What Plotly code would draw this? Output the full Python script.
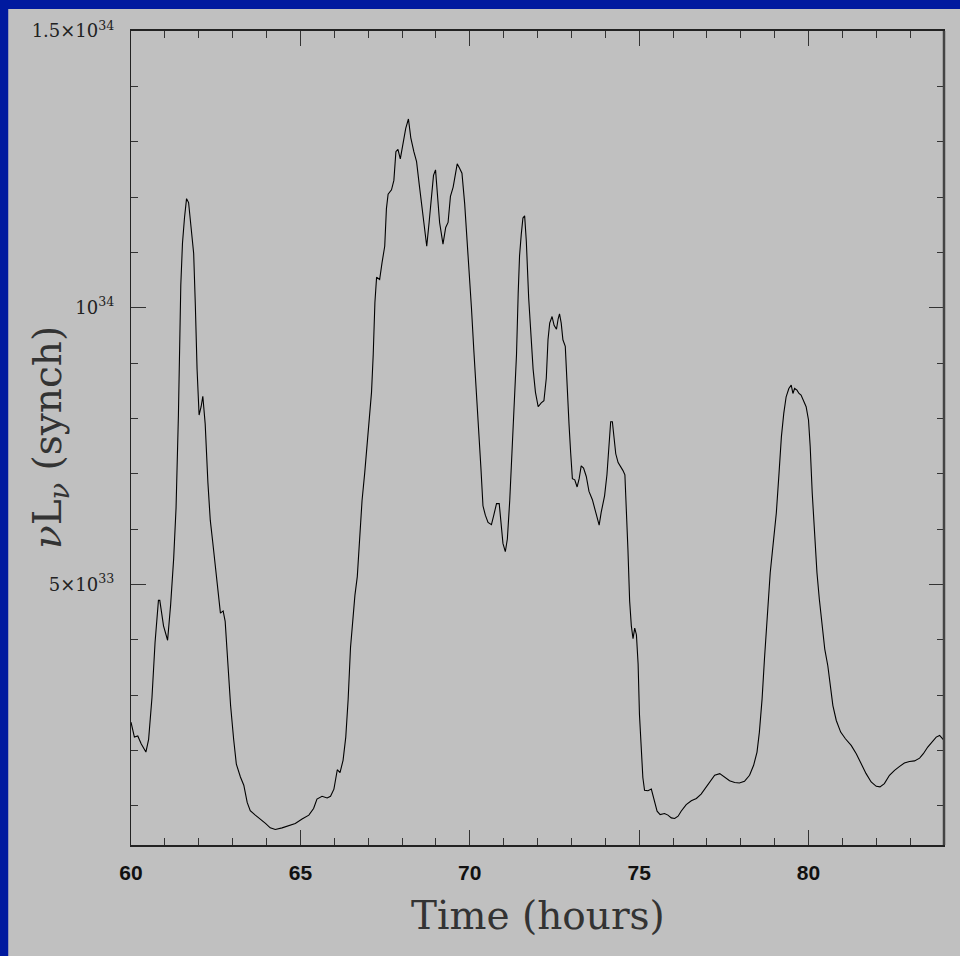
import plotly.graph_objects as go

# Time (hours)
time_h = [
    60.00, 60.10, 60.20, 60.30, 60.44, 60.52, 60.62, 60.71, 60.81, 60.85, 60.96, 61.08, 61.17, 61.26,
    61.33, 61.40, 61.47, 61.52, 61.58, 61.64, 61.70, 61.77, 61.85, 61.90, 61.95, 62.01, 62.07, 62.12,
    62.19, 62.27, 62.34, 62.41, 62.49, 62.57, 62.64, 62.72, 62.78, 62.86, 62.94, 63.03, 63.11, 63.23,
    63.33, 63.43, 63.52, 63.67, 63.82, 63.97, 64.11, 64.26, 64.46, 64.66, 64.85, 65.05, 65.25, 65.39,
    65.49, 65.64, 65.79, 65.89,
    65.99, 66.09, 66.17, 66.26, 66.34, 66.41, 66.48, 66.54, 66.61, 66.68, 66.75, 66.82, 66.90, 66.97,
    67.03, 67.10, 67.15, 67.20, 67.25, 67.34, 67.41, 67.49, 67.54, 67.59, 67.69, 67.76, 67.82, 67.88,
    67.95, 68.03, 68.11, 68.19, 68.26, 68.35, 68.43, 68.51, 68.58, 68.66, 68.73, 68.80, 68.87, 68.93,
    68.99, 69.04, 69.11, 69.21, 69.29, 69.36, 69.43, 69.51, 69.56, 69.63, 69.70, 69.77, 69.85, 69.92,
    69.98, 70.05, 70.12, 70.20, 70.27, 70.33, 70.39, 70.46, 70.54, 70.64, 70.71, 70.79, 70.87, 70.93,
    70.98, 71.05, 71.11, 71.18, 71.25, 71.31, 71.38, 71.43, 71.47, 71.52, 71.57, 71.62, 71.67, 71.74,
    71.80, 71.87, 71.94, 72.02,
    72.11, 72.19, 72.26, 72.31, 72.36, 72.43, 72.49, 72.56, 72.61, 72.65, 72.70, 72.75, 72.82, 72.87,
    72.93, 72.98, 73.03, 73.10, 73.17, 73.23, 73.29, 73.36, 73.44, 73.52, 73.62, 73.72, 73.82, 73.88,
    73.98, 74.05, 74.11, 74.16, 74.21, 74.26, 74.31, 74.38, 74.45, 74.52, 74.58, 74.62, 74.67, 74.72,
    74.77, 74.82, 74.87, 74.92, 74.97, 75.01, 75.06, 75.11, 75.16, 75.26, 75.36, 75.44, 75.53, 75.62,
    75.75, 75.85, 75.95, 76.05, 76.15, 76.24, 76.39, 76.54, 76.69, 76.83, 76.96, 77.08, 77.23, 77.38,
    77.52, 77.67, 77.82, 77.96,
    78.11, 78.26, 78.38, 78.48, 78.55, 78.63, 78.70, 78.78, 78.87, 78.95, 79.05, 79.13, 79.20, 79.27,
    79.34, 79.42, 79.49, 79.54, 79.59, 79.66, 79.72, 79.78, 79.85, 79.93, 80.00, 80.05, 80.11, 80.18,
    80.25, 80.32, 80.40, 80.48, 80.57, 80.64, 80.72, 80.82, 80.95, 81.09, 81.26, 81.41, 81.55, 81.70,
    81.85, 82.00, 82.11, 82.24, 82.39, 82.54, 82.69, 82.83, 82.98, 83.13, 83.28, 83.39, 83.52, 83.65,
    83.77, 83.87, 83.94, 84.00,
]

# nu L_nu (synch), in units of 1e33
lum_e33 = [
    2.51, 2.24, 2.26, 2.12, 1.97, 2.20, 2.96, 3.95, 4.71, 4.71, 4.25, 3.99, 4.63, 5.47,
    6.38, 8.06, 10.41, 11.17, 11.63, 11.97, 11.90, 11.48, 10.98, 10.03, 8.89, 8.06, 8.21, 8.40,
    7.90, 6.84, 6.16, 5.78, 5.32, 4.79, 4.48, 4.52, 4.33, 3.57, 2.81, 2.20, 1.75, 1.52,
    1.37, 1.06, 0.91, 0.83, 0.76, 0.68, 0.60, 0.57, 0.60, 0.64, 0.68, 0.76, 0.83, 0.95,
    1.12, 1.17, 1.14, 1.17,
    1.30, 1.65, 1.60, 1.82, 2.24, 2.92, 3.86, 4.29, 4.80, 5.14, 5.91, 6.51, 7.02, 7.53,
    7.95, 8.47, 9.15, 10.09, 10.55, 10.51, 10.81, 11.11, 11.79, 12.05, 12.13, 12.30, 12.82, 12.86,
    12.69, 12.94, 13.24, 13.41, 13.07, 12.82, 12.64, 12.22, 11.88, 11.45, 11.11, 11.54, 12.05, 12.39,
    12.49, 12.13, 11.54, 11.15, 11.45, 11.54, 12.01, 12.18, 12.39, 12.60, 12.52, 12.43, 11.88, 11.28,
    10.77, 10.00, 9.23, 8.47, 7.78, 7.10, 6.42, 6.25, 6.12, 6.08, 6.25, 6.46, 6.46, 6.08,
    5.74, 5.59, 5.82, 6.51, 7.44, 8.30, 9.15, 10.26, 10.94, 11.32, 11.62, 11.66, 11.20, 10.17,
    9.49, 8.89, 8.47, 8.21,
    8.28, 8.32, 8.73, 9.42, 9.72, 9.84, 9.68, 9.61, 9.80, 9.89, 9.72, 9.42, 9.30, 8.58,
    7.90, 7.37, 6.91, 6.89, 6.76, 6.91, 7.14, 7.10, 6.95, 6.68, 6.53, 6.30, 6.07, 6.30,
    6.60, 6.98, 7.44, 7.94, 7.94, 7.67, 7.36, 7.20, 7.14, 7.06, 6.98, 6.45, 5.62, 4.70,
    4.25, 4.02, 4.21, 4.09, 3.56, 2.65, 1.97, 1.51, 1.28, 1.27, 1.30, 1.13, 0.90, 0.84,
    0.86, 0.83, 0.78, 0.77, 0.81, 0.90, 1.02, 1.09, 1.13, 1.21, 1.32, 1.43, 1.55, 1.58,
    1.51, 1.45, 1.42, 1.41,
    1.44, 1.55, 1.73, 1.97, 2.33, 2.93, 3.65, 4.49, 5.21, 5.69, 6.29, 7.01, 7.67, 8.09,
    8.39, 8.54, 8.60, 8.45, 8.54, 8.51, 8.45, 8.42, 8.33, 8.21, 7.97, 7.49, 6.65, 5.81,
    5.21, 4.73, 4.25, 3.83, 3.53, 3.17, 2.81, 2.54, 2.33, 2.21, 2.09, 1.94, 1.76, 1.58,
    1.43, 1.35, 1.34, 1.40, 1.55, 1.64, 1.71, 1.77, 1.80, 1.81, 1.86, 1.94, 2.06, 2.15,
    2.24, 2.27, 2.22, 2.18,
]

y_tickvals = [5, 10, 15]
y_ticktext = ["5×10<sup>33</sup>", "10<sup>34</sup>", "1.5×10<sup>34</sup>"]
x_tickvals = [60, 65, 70, 75, 80]

BLUE = "#00199f"
GRAY = "#c0c0c0"
INK = "#111111"
SERIF = "DejaVu Serif, Liberation Serif, serif"

fig = go.Figure()
fig.add_trace(go.Scatter(
    x=time_h, y=lum_e33, mode="lines",
    line=dict(color="#000000", width=1.1),
    hoverinfo="skip", showlegend=False,
))

fig.update_layout(
    width=960, height=956,
    margin=dict(l=131, r=16, t=31, b=111),
    paper_bgcolor=BLUE,
    plot_bgcolor=GRAY,
    showlegend=False,
    shapes=[
        dict(type="rect", xref="paper", yref="paper", layer="below",
             x0=-0.151, x1=1.03, y0=-0.15, y1=1.0270,
             fillcolor=GRAY, line=dict(width=0)),
        dict(type="line", xref="paper", yref="paper", layer="above",
             x0=1.0, x1=1.0, y0=0, y1=1.0, line=dict(color="#444444", width=2.5)),
    ],
    annotations=[
        dict(text="Time (hours)", xref="paper", yref="paper", x=0.5, y=-0.087,
             xanchor="center", yanchor="middle", showarrow=False,
             font=dict(family=SERIF, size=39, color="#333333", weight=300)),
        dict(text="<i>ν</i>L<sub><i>ν</i></sub> (synch)", xref="paper", yref="paper", x=-0.0996, y=0.5,
             xanchor="center", yanchor="middle", showarrow=False, textangle=-90,
             font=dict(family=SERIF, size=39, color="#333333", weight=300)),
    ],
)

fig.update_xaxes(
    range=[60, 84], tickmode="array", tickvals=x_tickvals,
    ticks="inside", ticklen=15, tickwidth=1, tickcolor="#333333",
    minor=dict(tickmode="linear", tick0=60, dtick=1, ticks="inside", ticklen=7,
               tickwidth=1, tickcolor="#333333", showgrid=False),
    showline=True, linecolor="#222222", linewidth=1.5, mirror="ticks",
    showgrid=False, zeroline=False,
    tickfont=dict(family="Liberation Sans, Arial, sans-serif", size=21, color=INK, weight="bold"),
    ticklabelstandoff=8,
)
fig.update_yaxes(
    range=[0.29, 15.0001], tickmode="array", tickvals=y_tickvals, ticktext=y_ticktext,
    ticks="inside", ticklen=15, tickwidth=1, tickcolor="#333333",
    minor=dict(tickmode="linear", tick0=0, dtick=1, ticks="inside", ticklen=7,
               tickwidth=1, tickcolor="#333333", showgrid=False),
    showline=True, linecolor="#222222", linewidth=1.2, mirror="ticks",
    showgrid=False, zeroline=False,
    tickfont=dict(family=SERIF, size=18, color="#222222"),
    ticklabelstandoff=12,
)

fig.write_html("out.html")
